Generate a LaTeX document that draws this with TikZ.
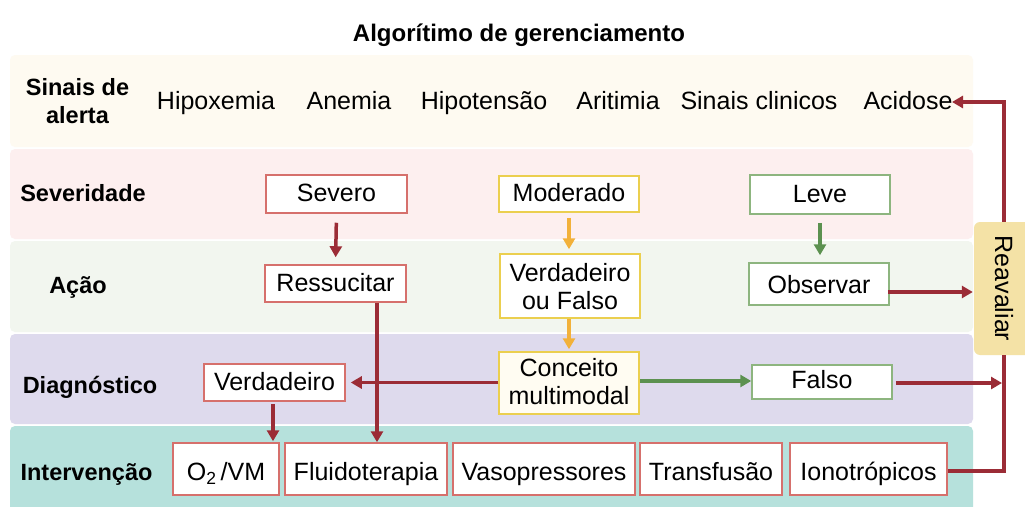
\documentclass[tikz,border=0pt]{standalone}
\usepackage{fontspec}
\setmainfont{Liberation Sans}
\usetikzlibrary{arrows.meta}
\definecolor{bandA}{HTML}{FEFAF1}
\definecolor{bandB}{HTML}{FDEFEF}
\definecolor{bandC}{HTML}{F2F6EF}
\definecolor{bandD}{HTML}{DEDAED}
\definecolor{bandE}{HTML}{B6E1DC}
\definecolor{reav}{HTML}{F4E2A6}
\definecolor{bred}{HTML}{D6706C}
\definecolor{byel}{HTML}{EBCF4F}
\definecolor{bgrn}{HTML}{8DB57F}
\definecolor{ared}{HTML}{9B2C36}
\definecolor{aora}{HTML}{F2B13A}
\definecolor{agrn}{HTML}{5C9150}
\definecolor{cream}{HTML}{FFFCF2}
\tikzset{
  band/.style={rounded corners=5pt, draw=none},
  lbl/.style={font=\fontsize{23.5}{28}\selectfont\bfseries, align=center, inner sep=0pt, anchor=base},
  sig/.style={font=\fontsize{25}{28}\selectfont, inner sep=0pt, anchor=base},
  bx/.style={draw, line width=1.5pt, fill=white, inner sep=0pt, align=center,
     font=\fontsize{25}{28}\selectfont, text height=18pt, text depth=3pt},
  rbx/.style={bx, draw=bred},
  ybx/.style={bx, draw=byel},
  gbx/.style={bx, draw=bgrn},
  ibx/.style={rbx, minimum height=52pt, text height=23pt, text depth=0pt},
  arr/.style={line width=3.5pt, -{Triangle[length=11pt,width=12pt]}},
  ln/.style={line width=3.5pt},
}
\begin{document}
\begin{tikzpicture}[x=1pt,y=-1pt]
\useasboundingbox (0,0) rectangle (1025,506);
\fill[white] (0,0) rectangle (1025,506);
% bands
\fill[band, bandA] (10,55) rectangle (973,147);
\fill[band, bandB] (10,149) rectangle (973,239);
\fill[band, bandC] (10,241) rectangle (973,332);
\fill[band, bandD] (10,334) rectangle (973,424);
\fill[band, bandE] (10,426) rectangle (973,515);
% title
\node[lbl, font=\fontsize{24}{28}\selectfont\bfseries] (title) at (519,41.7) {Algorítimo de gerenciamento};
% row labels
\node[lbl] (l1) at (77.5,123.3) {Sinais de\\alerta};
\node[lbl] (l2) at (83,201.7) {Severidade};
\node[lbl] (l3) at (78,293.3) {Ação};
\node[lbl] (l4) at (90,393.3) {Diagnóstico};
\node[lbl] (l5) at (86.5,480) {Intervenção};
% signals
\node[sig] (s1) at (216,109.3) {Hipoxemia};
\node[sig] (s2) at (349,109.3) {Anemia};
\node[sig] (s3) at (484,109.3) {Hipotensão};
\node[sig] (s4) at (618,109.3) {Aritimia};
\node[sig] (s5) at (759,109.3) {Sinais clinicos};
\node[sig] (s6) at (908,109.3) {Acidose};
% boxes
\node[rbx, minimum width=141pt, minimum height=38pt] (sev) at (336.5,194) {Severo};
\node[ybx, minimum width=140pt, minimum height=36pt] (mod) at (569,194) {Moderado};
\node[gbx, minimum width=140pt, minimum height=39pt] (lev) at (820,194.5) {Leve};
\node[rbx, minimum width=141pt, minimum height=37pt] (res) at (335.5,283.5) {Ressucitar};
\node[ybx, minimum width=140pt, minimum height=64pt, text height=47pt, text depth=0pt] (vf) at (570,286) {Verdadeiro\\ou Falso};
\node[gbx, minimum width=140pt, minimum height=42pt, text depth=0pt] (obs) at (819,284) {Observar};
\node[ybx, fill=cream, minimum width=140pt, minimum height=62pt, text height=42pt, text depth=0pt] (con) at (569,383) {Conceito\\multimodal};
\node[gbx, minimum width=140pt, minimum height=34pt, text depth=6pt] (fal) at (822,382) {Falso};
\node[rbx, minimum width=141pt, minimum height=37pt] (ver) at (274.5,382.5) {Verdadeiro};
\node[ibx, minimum width=106pt] (o2) at (226,469) {O\textsubscript{2}\,/VM};
\node[ibx, minimum width=162pt] (flu) at (366,469) {Fluidoterapia};
\node[ibx, minimum width=182pt] (vas) at (544,469) {Vasopressores};
\node[ibx, minimum width=142pt] (tra) at (711,469) {Transfusão};
\node[ibx, minimum width=157pt] (ion) at (868.5,469) {Ionotrópicos};
\node[fill=reav, rounded corners=6pt, minimum width=60pt, minimum height=133pt, inner sep=0pt,
  font=\fontsize{25}{28}\selectfont] (rea) at (1004,288.5) {\rotatebox{-90}{Reavaliar}};
% connectors
\draw[arr, ared, shorten <=9pt, shorten >=7pt] (sev.south) -- (res.north);
\draw[arr, aora, shorten <=5pt, shorten >=4pt] (mod.south) -- (vf.north -| mod.south);
\draw[arr, aora, shorten >=2pt] (vf.south -| con.north) -- (con.north);
\draw[arr, agrn, shorten <=8pt, shorten >=7pt] (lev.south) -- (obs.north -| lev.south);
\coordinate (rx) at (377,0);
\draw[arr, ared] (res.south -| rx) -- (flu.north -| rx);
\coordinate (vx) at (273,0);
\draw[arr, ared, shorten <=2pt, shorten >=1pt] (ver.south -| vx) -- (o2.north -| vx);
\draw[arr, ared, shorten >=5pt] (con.west |- ver.east) -- (ver.east);
\coordinate (gy) at (0,381);
\draw[arr, agrn] (con.east |- gy) -- (fal.west |- gy);
\coordinate (oy) at (0,292);
\draw[arr, ared, shorten <=-2pt, shorten >=1pt] (obs.east |- oy) -- (rea.west |- oy);
\coordinate (fy) at (0,383);
\coordinate (fx) at (1002,0);
\draw[arr, ared, shorten <=3pt] (fal.east |- fy) -- (fx |- fy);
\coordinate (iy) at (0,471);
\draw[ln, ared] (ion.east |- iy) -| (rea.south);
\coordinate (ay) at (0,102);
\coordinate (ax) at (953,0);
\draw[arr, ared, shorten >=-1pt] (rea.north) |- (ax |- ay);
\end{tikzpicture}
\end{document}
